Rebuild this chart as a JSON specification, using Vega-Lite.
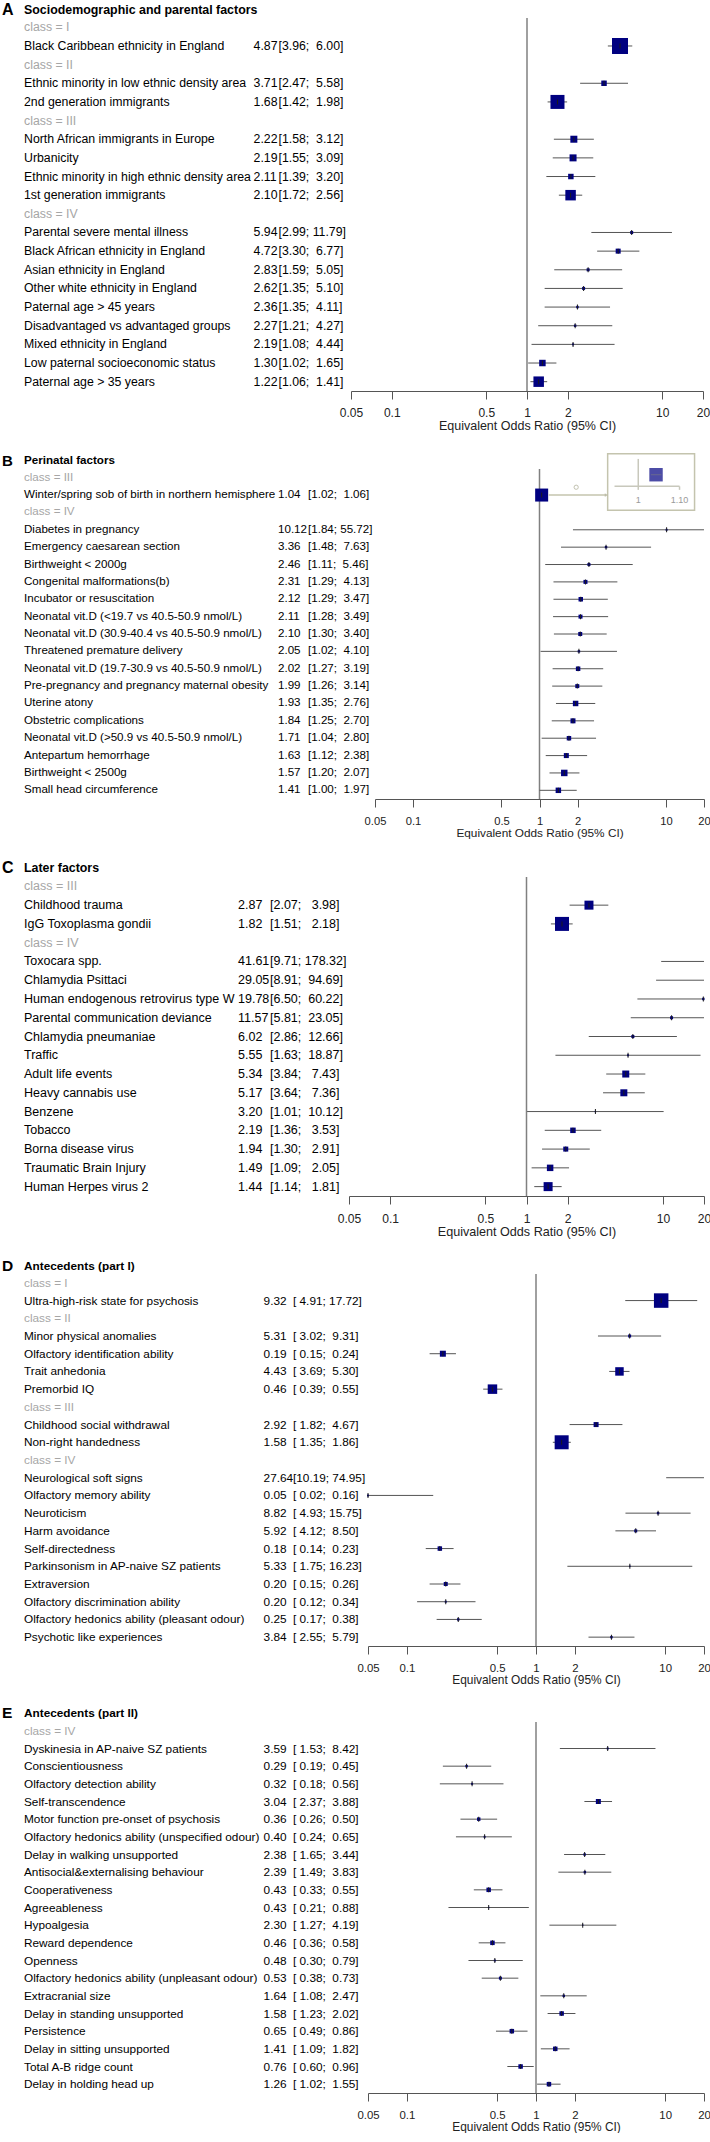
{
"$schema": "https://vega.github.io/schema/vega-lite/v6.json",
"padding": {"left": 0, "top": 1, "right": 0, "bottom": 0},
"background": "white",
"datasets": {
"A": [
{"label": "class = I"},
{"label": "Black Caribbean ethnicity in England", "est": 4.87, "lo": 3.96, "hi": 6.00, "weight": 256},
{"label": "class = II"},
{"label": "Ethnic minority in low ethnic density area", "est": 3.71, "lo": 2.47, "hi": 5.58, "weight": 30},
{"label": "2nd generation immigrants", "est": 1.68, "lo": 1.42, "hi": 1.98, "weight": 196},
{"label": "class = III"},
{"label": "North African immigrants in Europe", "est": 2.22, "lo": 1.58, "hi": 3.12, "weight": 49},
{"label": "Urbanicity", "est": 2.19, "lo": 1.55, "hi": 3.09, "weight": 49},
{"label": "Ethnic minority in high ethnic density area", "est": 2.11, "lo": 1.39, "hi": 3.20, "weight": 30},
{"label": "1st generation immigrants", "est": 2.10, "lo": 1.72, "hi": 2.56, "weight": 110},
{"label": "class = IV"},
{"label": "Parental severe mental illness", "est": 5.94, "lo": 2.99, "hi": 11.79, "weight": 9},
{"label": "Black African ethnicity in England", "est": 4.72, "lo": 3.30, "hi": 6.77, "weight": 25},
{"label": "Asian ethnicity in England", "est": 2.83, "lo": 1.59, "hi": 5.05, "weight": 9},
{"label": "Other white ethnicity in England", "est": 2.62, "lo": 1.35, "hi": 5.10, "weight": 9},
{"label": "Paternal age > 45 years", "est": 2.36, "lo": 1.35, "hi": 4.11, "weight": 6},
{"label": "Disadvantaged vs advantaged groups", "est": 2.27, "lo": 1.21, "hi": 4.27, "weight": 6},
{"label": "Mixed ethnicity in England", "est": 2.19, "lo": 1.08, "hi": 4.44, "weight": 4},
{"label": "Low paternal socioeconomic status", "est": 1.30, "lo": 1.02, "hi": 1.65, "weight": 42},
{"label": "Paternal age > 35 years", "est": 1.22, "lo": 1.06, "hi": 1.41, "weight": 110}
],
"B": [
{"label": "class = III"},
{"label": "Winter/spring sob of birth in northern hemisphere", "est": 1.04, "lo": 1.02, "hi": 1.06, "weight": 169},
{"label": "class = IV"},
{"label": "Diabetes in pregnancy", "est": 10.12, "lo": 1.84, "hi": 55.72, "weight": 4},
{"label": "Emergency caesarean section", "est": 3.36, "lo": 1.48, "hi": 7.63, "weight": 6},
{"label": "Birthweight < 2000g", "est": 2.46, "lo": 1.11, "hi": 5.46, "weight": 9},
{"label": "Congenital malformations(b)", "est": 2.31, "lo": 1.29, "hi": 4.13, "weight": 16},
{"label": "Incubator or resuscitation", "est": 2.12, "lo": 1.29, "hi": 3.47, "weight": 20},
{"label": "Neonatal vit.D (<19.7 vs 40.5-50.9 nmol/L)", "est": 2.11, "lo": 1.28, "hi": 3.49, "weight": 16},
{"label": "Neonatal vit.D (30.9-40.4 vs 40.5-50.9 nmol/L)", "est": 2.10, "lo": 1.30, "hi": 3.40, "weight": 16},
{"label": "Threatened premature delivery", "est": 2.05, "lo": 1.02, "hi": 4.10, "weight": 6},
{"label": "Neonatal vit.D (19.7-30.9 vs 40.5-50.9 nmol/L)", "est": 2.02, "lo": 1.27, "hi": 3.19, "weight": 20},
{"label": "Pre-pregnancy and pregnancy maternal obesity", "est": 1.99, "lo": 1.26, "hi": 3.14, "weight": 16},
{"label": "Uterine atony", "est": 1.93, "lo": 1.35, "hi": 2.76, "weight": 30},
{"label": "Obstetric complications", "est": 1.84, "lo": 1.25, "hi": 2.70, "weight": 25},
{"label": "Neonatal vit.D (>50.9 vs 40.5-50.9 nmol/L)", "est": 1.71, "lo": 1.04, "hi": 2.80, "weight": 20},
{"label": "Antepartum hemorrhage", "est": 1.63, "lo": 1.12, "hi": 2.38, "weight": 25},
{"label": "Birthweight < 2500g", "est": 1.57, "lo": 1.20, "hi": 2.07, "weight": 42},
{"label": "Small head circumference", "est": 1.41, "lo": 1.00, "hi": 1.97, "weight": 30}
],
"C": [
{"label": "class = III"},
{"label": "Childhood trauma", "est": 2.87, "lo": 2.07, "hi": 3.98, "weight": 81},
{"label": "IgG Toxoplasma gondii", "est": 1.82, "lo": 1.51, "hi": 2.18, "weight": 196},
{"label": "class = IV"},
{"label": "Toxocara spp.", "est": 41.61, "lo": 9.71, "hi": 178.32, "weight": 4},
{"label": "Chlamydia Psittaci", "est": 29.05, "lo": 8.91, "hi": 94.69, "weight": 4},
{"label": "Human endogenous retrovirus type W", "est": 19.78, "lo": 6.50, "hi": 60.22, "weight": 6},
{"label": "Parental communication deviance", "est": 11.57, "lo": 5.81, "hi": 23.05, "weight": 9},
{"label": "Chlamydia pneumaniae", "est": 6.02, "lo": 2.86, "hi": 12.66, "weight": 9},
{"label": "Traffic", "est": 5.55, "lo": 1.63, "hi": 18.87, "weight": 4},
{"label": "Adult life events", "est": 5.34, "lo": 3.84, "hi": 7.43, "weight": 49},
{"label": "Heavy cannabis use", "est": 5.17, "lo": 3.64, "hi": 7.36, "weight": 49},
{"label": "Benzene", "est": 3.20, "lo": 1.01, "hi": 10.12, "weight": 2},
{"label": "Tobacco", "est": 2.19, "lo": 1.36, "hi": 3.53, "weight": 30},
{"label": "Borna disease virus", "est": 1.94, "lo": 1.30, "hi": 2.91, "weight": 25},
{"label": "Traumatic Brain Injury", "est": 1.49, "lo": 1.09, "hi": 2.05, "weight": 42},
{"label": "Human Herpes virus 2", "est": 1.44, "lo": 1.14, "hi": 1.81, "weight": 81}
],
"D": [
{"label": "class = I"},
{"label": "Ultra-high-risk state for psychosis", "est": 9.32, "lo": 4.91, "hi": 17.72, "weight": 210},
{"label": "class = II"},
{"label": "Minor physical anomalies", "est": 5.31, "lo": 3.02, "hi": 9.31, "weight": 9},
{"label": "Olfactory identification ability", "est": 0.19, "lo": 0.15, "hi": 0.24, "weight": 36},
{"label": "Trait anhedonia", "est": 4.43, "lo": 3.69, "hi": 5.30, "weight": 72},
{"label": "Premorbid IQ", "est": 0.46, "lo": 0.39, "hi": 0.55, "weight": 90},
{"label": "class = III"},
{"label": "Childhood social withdrawal", "est": 2.92, "lo": 1.82, "hi": 4.67, "weight": 25},
{"label": "Non-right handedness", "est": 1.58, "lo": 1.35, "hi": 1.86, "weight": 196},
{"label": "class = IV"},
{"label": "Neurological soft signs", "est": 27.64, "lo": 10.19, "hi": 74.95, "weight": 4},
{"label": "Olfactory memory ability", "est": 0.05, "lo": 0.02, "hi": 0.16, "weight": 4},
{"label": "Neuroticism", "est": 8.82, "lo": 4.93, "hi": 15.75, "weight": 6},
{"label": "Harm avoidance", "est": 5.92, "lo": 4.12, "hi": 8.50, "weight": 9},
{"label": "Self-directedness", "est": 0.18, "lo": 0.14, "hi": 0.23, "weight": 20},
{"label": "Parkinsonism in AP-naive SZ patients", "est": 5.33, "lo": 1.75, "hi": 16.23, "weight": 2},
{"label": "Extraversion", "est": 0.20, "lo": 0.15, "hi": 0.26, "weight": 16},
{"label": "Olfactory discrimination ability", "est": 0.20, "lo": 0.12, "hi": 0.34, "weight": 4},
{"label": "Olfactory hedonics ability (pleasant odour)", "est": 0.25, "lo": 0.17, "hi": 0.38, "weight": 6},
{"label": "Psychotic like experiences", "est": 3.84, "lo": 2.55, "hi": 5.79, "weight": 6}
],
"E": [
{"label": "class = IV"},
{"label": "Dyskinesia in AP-naive SZ patients", "est": 3.59, "lo": 1.53, "hi": 8.42, "weight": 4},
{"label": "Conscientiousness", "est": 0.29, "lo": 0.19, "hi": 0.45, "weight": 6},
{"label": "Olfactory detection ability", "est": 0.32, "lo": 0.18, "hi": 0.56, "weight": 4},
{"label": "Self-transcendence", "est": 3.04, "lo": 2.37, "hi": 3.88, "weight": 25},
{"label": "Motor function pre-onset of psychosis", "est": 0.36, "lo": 0.26, "hi": 0.50, "weight": 12},
{"label": "Olfactory hedonics ability (unspecified odour)", "est": 0.40, "lo": 0.24, "hi": 0.65, "weight": 4},
{"label": "Delay in walking unsupported", "est": 2.38, "lo": 1.65, "hi": 3.44, "weight": 6},
{"label": "Antisocial&externalising behaviour", "est": 2.39, "lo": 1.49, "hi": 3.83, "weight": 6},
{"label": "Cooperativeness", "est": 0.43, "lo": 0.33, "hi": 0.55, "weight": 20},
{"label": "Agreeableness", "est": 0.43, "lo": 0.21, "hi": 0.88, "weight": 2},
{"label": "Hypoalgesia", "est": 2.30, "lo": 1.27, "hi": 4.19, "weight": 2},
{"label": "Reward dependence", "est": 0.46, "lo": 0.36, "hi": 0.58, "weight": 20},
{"label": "Openness", "est": 0.48, "lo": 0.30, "hi": 0.79, "weight": 4},
{"label": "Olfactory hedonics ability (unpleasant odour)", "est": 0.53, "lo": 0.38, "hi": 0.73, "weight": 9},
{"label": "Extracranial size", "est": 1.64, "lo": 1.08, "hi": 2.47, "weight": 6},
{"label": "Delay in standing unsupported", "est": 1.58, "lo": 1.23, "hi": 2.02, "weight": 20},
{"label": "Persistence", "est": 0.65, "lo": 0.49, "hi": 0.86, "weight": 20},
{"label": "Delay in sitting unsupported", "est": 1.41, "lo": 1.09, "hi": 1.82, "weight": 20},
{"label": "Total A-B ridge count", "est": 0.76, "lo": 0.60, "hi": 0.96, "weight": 20},
{"label": "Delay in holding head up", "est": 1.26, "lo": 1.02, "hi": 1.55, "weight": 20}
]
},
"vconcat": [
{
 "hconcat": [
  {
   "width": 351, "height": 373,
   "resolve": {"scale": {"y": "independent"}},
   "layer": [
    {"data": {"name": "A"},
     "encoding": {"y": {"field": "label", "type": "nominal", "sort": null, "axis": null, "scale": {"type": "point", "padding": 0.5}}},
     "layer": [
      {"mark": {"type": "text", "fontSize": 12.3}, "encoding": {"x": {"datum": 0.0684, "type": "quantitative", "scale": {"domain": [0, 1], "nice": false}, "axis": null}, "text": {"field": "label"}, "color": {"condition": {"test": "indexof(datum.label, 'class =') === 0", "value": "#a6a6a6"}, "value": "#000000"}}},
      {"mark": {"type": "text", "fontSize": 12.3, "text": {"expr": "isValid(datum.est) ? format(datum.est, '.2f') : ''"}}, "encoding": {"x": {"datum": 0.7225, "type": "quantitative", "scale": {"domain": [0, 1], "nice": false}, "axis": null}}},
      {"mark": {"type": "text", "fontSize": 12.3, "text": {"expr": "isValid(datum.lo) ? '[' + format(datum.lo, '.2f') + ';\u00a0' + (datum.hi < 10 ? '\u00a0' : '') + format(datum.hi, '.2f') + ']' : ''"}}, "encoding": {"x": {"datum": 0.7934, "type": "quantitative", "scale": {"domain": [0, 1], "nice": false}, "axis": null}}}
     ]},
    {"data": {"values": [{"letter": "A", "title": "Sociodemographic and parental factors"}]},
     "encoding": {"y": {"datum": -0.43, "type": "quantitative", "scale": {"domain": [0, 20], "reverse": true, "nice": false, "zero": false}, "axis": null}},
     "layer": [
      {"mark": {"type": "text", "fontSize": 16, "fontWeight": "bold"}, "encoding": {"x": {"datum": 0.0057, "type": "quantitative", "scale": {"domain": [0, 1], "nice": false}, "axis": null}, "text": {"field": "letter"}}},
      {"mark": {"type": "text", "fontSize": 12.4, "fontWeight": "bold"}, "encoding": {"x": {"datum": 0.0684, "type": "quantitative", "scale": {"domain": [0, 1], "nice": false}, "axis": null}, "text": {"field": "title"}}}
     ]}
   ]
  },
  {
   "width": 352, "height": 373,
   "data": {"name": "A"},
   "layer": [
    {"data": {"values": [{}]}, "mark": {"type": "rule", "color": "#808080", "strokeWidth": 1.5}, "encoding": {"x": {"datum": 1, "type": "quantitative", "scale": {"type": "log", "domain": [0.05, 20], "clamp": true, "nice": false}, "axis": {"values": [0.05, 0.1, 0.5, 1, 2, 10, 20], "format": "~g", "title": "Equivalent Odds Ratio (95% CI)", "labelFontSize": 12, "titleFontSize": 12.5}}}},
    {"mark": {"type": "rule", "color": "#555555", "strokeWidth": 1}, "encoding": {"x": {"field": "lo", "type": "quantitative", "scale": {"type": "log", "domain": [0.05, 20], "clamp": true, "nice": false}, "axis": {"values": [0.05, 0.1, 0.5, 1, 2, 10, 20], "format": "~g", "title": "Equivalent Odds Ratio (95% CI)", "labelFontSize": 12, "titleFontSize": 12.5}}, "x2": {"field": "hi"}, "y": {"field": "label", "type": "nominal", "sort": null, "axis": null, "scale": {"type": "point", "padding": 0.5}}}},
    {"mark": {"type": "point", "shape": "square", "filled": true, "color": "#000080", "strokeWidth": 0}, "encoding": {"x": {"field": "est", "type": "quantitative", "scale": {"type": "log", "domain": [0.05, 20], "clamp": true, "nice": false}, "axis": {"values": [0.05, 0.1, 0.5, 1, 2, 10, 20], "format": "~g", "title": "Equivalent Odds Ratio (95% CI)", "labelFontSize": 12, "titleFontSize": 12.5}}, "y": {"field": "label", "type": "nominal", "sort": null, "axis": null, "scale": {"type": "point", "padding": 0.5}}, "size": {"field": "weight", "type": "quantitative", "scale": {"domain": [0, 300], "range": [0, 300]}, "legend": null}, "opacity": {"condition": {"test": "datum.est > 20", "value": 0}, "value": 1}}},
    {"mark": {"type": "tick", "color": "#1a1a1a", "size": 5, "thickness": 1}, "encoding": {"x": {"field": "est", "type": "quantitative", "scale": {"type": "log", "domain": [0.05, 20], "clamp": true, "nice": false}, "axis": {"values": [0.05, 0.1, 0.5, 1, 2, 10, 20], "format": "~g", "title": "Equivalent Odds Ratio (95% CI)", "labelFontSize": 12, "titleFontSize": 12.5}}, "y": {"field": "label", "type": "nominal", "sort": null, "axis": null, "scale": {"type": "point", "padding": 0.5}}, "opacity": {"condition": {"test": "datum.est > 20", "value": 0}, "value": 1}}}
   ]
  }
 ],
 "spacing": 0,
 "bounds": "flush",
 "resolve": {"scale": {"x": "independent", "y": "independent", "size": "independent", "opacity": "independent"}}
},
{
 "hconcat": [
  {
   "width": 375, "height": 330,
   "resolve": {"scale": {"y": "independent"}},
   "layer": [
    {"data": {"name": "B"},
     "encoding": {"y": {"field": "label", "type": "nominal", "sort": null, "axis": null, "scale": {"type": "point", "padding": 0.5}}},
     "layer": [
      {"mark": {"type": "text", "fontSize": 11.6}, "encoding": {"x": {"datum": 0.064, "type": "quantitative", "scale": {"domain": [0, 1], "nice": false}, "axis": null}, "text": {"field": "label"}, "color": {"condition": {"test": "indexof(datum.label, 'class =') === 0", "value": "#a6a6a6"}, "value": "#000000"}}},
      {"mark": {"type": "text", "fontSize": 11.6, "text": {"expr": "isValid(datum.est) ? format(datum.est, '.2f') : ''"}}, "encoding": {"x": {"datum": 0.7413, "type": "quantitative", "scale": {"domain": [0, 1], "nice": false}, "axis": null}}},
      {"mark": {"type": "text", "fontSize": 11.6, "text": {"expr": "isValid(datum.lo) ? '[' + format(datum.lo, '.2f') + ';\u00a0' + (datum.hi < 10 ? '\u00a0' : '') + format(datum.hi, '.2f') + ']' : ''"}}, "encoding": {"x": {"datum": 0.8213, "type": "quantitative", "scale": {"domain": [0, 1], "nice": false}, "axis": null}}}
     ]},
    {"data": {"values": [{"letter": "B", "title": "Perinatal factors"}]},
     "encoding": {"y": {"datum": -0.44, "type": "quantitative", "scale": {"domain": [0, 19], "reverse": true, "nice": false, "zero": false}, "axis": null}},
     "layer": [
      {"mark": {"type": "text", "fontSize": 15, "fontWeight": "bold"}, "encoding": {"x": {"datum": 0.0056, "type": "quantitative", "scale": {"domain": [0, 1], "nice": false}, "axis": null}, "text": {"field": "letter"}}},
      {"mark": {"type": "text", "fontSize": 11.6, "fontWeight": "bold"}, "encoding": {"x": {"datum": 0.064, "type": "quantitative", "scale": {"domain": [0, 1], "nice": false}, "axis": null}, "text": {"field": "title"}}}
     ]}
   ]
  },
  {
   "width": 329, "height": 330,
   "resolve": {"scale": {"y": "independent"}},
   "layer": [
    {"data": {"name": "B"},
     "layer": [
      {"data": {"values": [{}]}, "mark": {"type": "rule", "color": "#808080", "strokeWidth": 1.5}, "encoding": {"x": {"datum": 1, "type": "quantitative", "scale": {"type": "log", "domain": [0.05, 20], "clamp": true, "nice": false}, "axis": {"values": [0.05, 0.1, 0.5, 1, 2, 10, 20], "format": "~g", "title": "Equivalent Odds Ratio (95% CI)", "labelFontSize": 11.2, "titleFontSize": 11.8}}}},
      {"mark": {"type": "rule", "color": "#555555", "strokeWidth": 1}, "encoding": {"x": {"field": "lo", "type": "quantitative", "scale": {"type": "log", "domain": [0.05, 20], "clamp": true, "nice": false}, "axis": {"values": [0.05, 0.1, 0.5, 1, 2, 10, 20], "format": "~g", "title": "Equivalent Odds Ratio (95% CI)", "labelFontSize": 11.2, "titleFontSize": 11.8}}, "x2": {"field": "hi"}, "y": {"field": "label", "type": "nominal", "sort": null, "axis": null, "scale": {"type": "point", "padding": 0.5}}}},
      {"mark": {"type": "point", "shape": "square", "filled": true, "color": "#000080", "strokeWidth": 0}, "encoding": {"x": {"field": "est", "type": "quantitative", "scale": {"type": "log", "domain": [0.05, 20], "clamp": true, "nice": false}, "axis": {"values": [0.05, 0.1, 0.5, 1, 2, 10, 20], "format": "~g", "title": "Equivalent Odds Ratio (95% CI)", "labelFontSize": 11.2, "titleFontSize": 11.8}}, "y": {"field": "label", "type": "nominal", "sort": null, "axis": null, "scale": {"type": "point", "padding": 0.5}}, "size": {"field": "weight", "type": "quantitative", "scale": {"domain": [0, 300], "range": [0, 300]}, "legend": null}, "opacity": {"condition": {"test": "datum.est > 20", "value": 0}, "value": 1}}},
      {"mark": {"type": "tick", "color": "#1a1a1a", "size": 5, "thickness": 1}, "encoding": {"x": {"field": "est", "type": "quantitative", "scale": {"type": "log", "domain": [0.05, 20], "clamp": true, "nice": false}, "axis": {"values": [0.05, 0.1, 0.5, 1, 2, 10, 20], "format": "~g", "title": "Equivalent Odds Ratio (95% CI)", "labelFontSize": 11.2, "titleFontSize": 11.8}}, "y": {"field": "label", "type": "nominal", "sort": null, "axis": null, "scale": {"type": "point", "padding": 0.5}}, "opacity": {"condition": {"test": "datum.est > 20", "value": 0}, "value": 1}}}
     ]},
    {"data": {"values": [{"a": "1", "b": "1.10"}]},
     "layer": [
      {"mark": {"type": "rect", "fillOpacity": 0, "stroke": "#c4c4ae", "strokeWidth": 1.5}, "encoding": {"x": {"datum": 3.46, "type": "quantitative", "scale": {"type": "log", "domain": [0.05, 20], "clamp": true, "nice": false}, "axis": {"values": [0.05, 0.1, 0.5, 1, 2, 10, 20], "format": "~g", "title": "Equivalent Odds Ratio (95% CI)", "labelFontSize": 11.2, "titleFontSize": 11.8}}, "x2": {"datum": 16.84}, "y": {"datum": -0.88, "type": "quantitative", "scale": {"domain": [0, 19], "reverse": true, "nice": false, "zero": false}, "axis": null}, "y2": {"datum": 2.38}}},
      {"mark": {"type": "rule", "color": "#c8c8bc", "strokeWidth": 1.5}, "encoding": {"x": {"datum": 6.04, "type": "quantitative"}, "y": {"datum": -0.58, "type": "quantitative"}, "y2": {"datum": 1.0}}},
      {"mark": {"type": "rule", "color": "#c8c8bc", "strokeWidth": 1.5}, "encoding": {"x": {"datum": 3.92, "type": "quantitative"}, "x2": {"datum": 12.81}, "y": {"datum": 1.0, "type": "quantitative"}}},
      {"mark": {"type": "rule", "color": "#c8c8bc", "strokeWidth": 1.5}, "encoding": {"x": {"datum": 12.81, "type": "quantitative"}, "y": {"datum": 1.0, "type": "quantitative"}, "y2": {"datum": 1.2}}},
      {"mark": {"type": "rule", "color": "#c8c8bc", "strokeWidth": 1.5}, "encoding": {"x": {"datum": 6.04, "type": "quantitative"}, "y": {"datum": 1.0, "type": "quantitative"}, "y2": {"datum": 1.2}}},
      {"mark": {"type": "text", "align": "center", "fontSize": 9, "color": "#9a9a9a"}, "encoding": {"x": {"datum": 6.04, "type": "quantitative"}, "y": {"datum": 1.77, "type": "quantitative"}, "text": {"field": "a"}}},
      {"mark": {"type": "text", "align": "center", "fontSize": 9, "color": "#9a9a9a"}, "encoding": {"x": {"datum": 12.81, "type": "quantitative"}, "y": {"datum": 1.77, "type": "quantitative"}, "text": {"field": "b"}}},
      {"mark": {"type": "point", "shape": "square", "filled": true, "color": "#000080", "strokeWidth": 0, "size": 180}, "encoding": {"x": {"datum": 8.35, "type": "quantitative"}, "y": {"datum": 0.33, "type": "quantitative"}}},
      {"mark": {"type": "rule", "color": "#6a6a90", "strokeWidth": 1}, "encoding": {"x": {"datum": 7.6, "type": "quantitative"}, "x2": {"datum": 9.2}, "y": {"datum": 0.33, "type": "quantitative"}}},
      {"mark": {"type": "rule", "color": "#c4c4ae", "strokeWidth": 1.5}, "encoding": {"x": {"datum": 1.18, "type": "quantitative"}, "x2": {"datum": 3.38}, "y": {"datum": 1.5, "type": "quantitative"}}},
      {"mark": {"type": "point", "shape": "triangle-right", "filled": true, "color": "#b4b49c", "size": 14}, "encoding": {"x": {"datum": 3.38, "type": "quantitative"}, "y": {"datum": 1.5, "type": "quantitative"}}},
      {"mark": {"type": "point", "shape": "circle", "filled": false, "color": "#a9a98f", "strokeWidth": 1, "size": 18}, "encoding": {"x": {"datum": 1.95, "type": "quantitative"}, "y": {"datum": 1.05, "type": "quantitative"}}}
     ]}
   ]
  }
 ],
 "spacing": 0,
 "bounds": "flush",
 "resolve": {"scale": {"x": "independent", "y": "independent", "size": "independent", "opacity": "independent"}}
},
{
 "hconcat": [
  {
   "width": 349, "height": 319,
   "resolve": {"scale": {"y": "independent"}},
   "layer": [
    {"data": {"name": "C"},
     "encoding": {"y": {"field": "label", "type": "nominal", "sort": null, "axis": null, "scale": {"type": "point", "padding": 0.5}}},
     "layer": [
      {"mark": {"type": "text", "fontSize": 12.5}, "encoding": {"x": {"datum": 0.0688, "type": "quantitative", "scale": {"domain": [0, 1], "nice": false}, "axis": null}, "text": {"field": "label"}, "color": {"condition": {"test": "indexof(datum.label, 'class =') === 0", "value": "#a6a6a6"}, "value": "#000000"}}},
      {"mark": {"type": "text", "fontSize": 12.5, "text": {"expr": "isValid(datum.est) ? format(datum.est, '.2f') : ''"}}, "encoding": {"x": {"datum": 0.682, "type": "quantitative", "scale": {"domain": [0, 1], "nice": false}, "axis": null}}},
      {"mark": {"type": "text", "fontSize": 12.5, "text": {"expr": "isValid(datum.lo) ? '[' + format(datum.lo, '.2f') + ';\u00a0' + (datum.hi < 10 ? '\u00a0\u00a0' : (datum.hi < 100 ? '\u00a0' : '')) + format(datum.hi, '.2f') + ']' : ''"}}, "encoding": {"x": {"datum": 0.7736, "type": "quantitative", "scale": {"domain": [0, 1], "nice": false}, "axis": null}}}
     ]},
    {"data": {"values": [{"letter": "C", "title": "Later factors"}]},
     "encoding": {"y": {"datum": -0.46, "type": "quantitative", "scale": {"domain": [0, 17], "reverse": true, "nice": false, "zero": false}, "axis": null}},
     "layer": [
      {"mark": {"type": "text", "fontSize": 16, "fontWeight": "bold"}, "encoding": {"x": {"datum": 0.006, "type": "quantitative", "scale": {"domain": [0, 1], "nice": false}, "axis": null}, "text": {"field": "letter"}}},
      {"mark": {"type": "text", "fontSize": 12.4, "fontWeight": "bold"}, "encoding": {"x": {"datum": 0.0688, "type": "quantitative", "scale": {"domain": [0, 1], "nice": false}, "axis": null}, "text": {"field": "title"}}}
     ]}
   ]
  },
  {
   "width": 355, "height": 319,
   "data": {"name": "C"},
   "layer": [
    {"data": {"values": [{}]}, "mark": {"type": "rule", "color": "#808080", "strokeWidth": 1.5}, "encoding": {"x": {"datum": 1, "type": "quantitative", "scale": {"type": "log", "domain": [0.05, 20], "clamp": true, "nice": false}, "axis": {"values": [0.05, 0.1, 0.5, 1, 2, 10, 20], "format": "~g", "title": "Equivalent Odds Ratio (95% CI)", "labelFontSize": 12.1, "titleFontSize": 12.6}}}},
    {"mark": {"type": "rule", "color": "#555555", "strokeWidth": 1}, "encoding": {"x": {"field": "lo", "type": "quantitative", "scale": {"type": "log", "domain": [0.05, 20], "clamp": true, "nice": false}, "axis": {"values": [0.05, 0.1, 0.5, 1, 2, 10, 20], "format": "~g", "title": "Equivalent Odds Ratio (95% CI)", "labelFontSize": 12.1, "titleFontSize": 12.6}}, "x2": {"field": "hi"}, "y": {"field": "label", "type": "nominal", "sort": null, "axis": null, "scale": {"type": "point", "padding": 0.5}}}},
    {"mark": {"type": "point", "shape": "square", "filled": true, "color": "#000080", "strokeWidth": 0}, "encoding": {"x": {"field": "est", "type": "quantitative", "scale": {"type": "log", "domain": [0.05, 20], "clamp": true, "nice": false}, "axis": {"values": [0.05, 0.1, 0.5, 1, 2, 10, 20], "format": "~g", "title": "Equivalent Odds Ratio (95% CI)", "labelFontSize": 12.1, "titleFontSize": 12.6}}, "y": {"field": "label", "type": "nominal", "sort": null, "axis": null, "scale": {"type": "point", "padding": 0.5}}, "size": {"field": "weight", "type": "quantitative", "scale": {"domain": [0, 300], "range": [0, 300]}, "legend": null}, "opacity": {"condition": {"test": "datum.est > 20", "value": 0}, "value": 1}}},
    {"mark": {"type": "tick", "color": "#1a1a1a", "size": 5, "thickness": 1}, "encoding": {"x": {"field": "est", "type": "quantitative", "scale": {"type": "log", "domain": [0.05, 20], "clamp": true, "nice": false}, "axis": {"values": [0.05, 0.1, 0.5, 1, 2, 10, 20], "format": "~g", "title": "Equivalent Odds Ratio (95% CI)", "labelFontSize": 12.1, "titleFontSize": 12.6}}, "y": {"field": "label", "type": "nominal", "sort": null, "axis": null, "scale": {"type": "point", "padding": 0.5}}, "opacity": {"condition": {"test": "datum.est > 20", "value": 0}, "value": 1}}}
   ]
  }
 ],
 "spacing": 0,
 "bounds": "flush",
 "resolve": {"scale": {"x": "independent", "y": "independent", "size": "independent", "opacity": "independent"}}
},
{
 "hconcat": [
  {
   "width": 368, "height": 372,
   "resolve": {"scale": {"y": "independent"}},
   "layer": [
    {"data": {"name": "D"},
     "encoding": {"y": {"field": "label", "type": "nominal", "sort": null, "axis": null, "scale": {"type": "point", "padding": 0.5}}},
     "layer": [
      {"mark": {"type": "text", "fontSize": 11.8}, "encoding": {"x": {"datum": 0.0652, "type": "quantitative", "scale": {"domain": [0, 1], "nice": false}, "axis": null}, "text": {"field": "label"}, "color": {"condition": {"test": "indexof(datum.label, 'class =') === 0", "value": "#a6a6a6"}, "value": "#000000"}}},
      {"mark": {"type": "text", "fontSize": 11.8, "text": {"expr": "isValid(datum.est) ? format(datum.est, '.2f') : ''"}}, "encoding": {"x": {"datum": 0.7163, "type": "quantitative", "scale": {"domain": [0, 1], "nice": false}, "axis": null}}},
      {"mark": {"type": "text", "fontSize": 11.8, "text": {"expr": "isValid(datum.lo) ? '[' + (datum.lo < 10 ? '\u00a0' : '') + format(datum.lo, '.2f') + ';\u00a0' + (datum.hi < 10 ? '\u00a0' : '') + format(datum.hi, '.2f') + ']' : ''"}}, "encoding": {"x": {"datum": 0.7962, "type": "quantitative", "scale": {"domain": [0, 1], "nice": false}, "axis": null}}}
     ]},
    {"data": {"values": [{"letter": "D", "title": "Antecedents (part I)"}]},
     "encoding": {"y": {"datum": -0.43, "type": "quantitative", "scale": {"domain": [0, 21], "reverse": true, "nice": false, "zero": false}, "axis": null}},
     "layer": [
      {"mark": {"type": "text", "fontSize": 15.5, "fontWeight": "bold"}, "encoding": {"x": {"datum": 0.0057, "type": "quantitative", "scale": {"domain": [0, 1], "nice": false}, "axis": null}, "text": {"field": "letter"}}},
      {"mark": {"type": "text", "fontSize": 11.8, "fontWeight": "bold"}, "encoding": {"x": {"datum": 0.0652, "type": "quantitative", "scale": {"domain": [0, 1], "nice": false}, "axis": null}, "text": {"field": "title"}}}
     ]}
   ]
  },
  {
   "width": 336, "height": 372,
   "data": {"name": "D"},
   "layer": [
    {"data": {"values": [{}]}, "mark": {"type": "rule", "color": "#808080", "strokeWidth": 1.5}, "encoding": {"x": {"datum": 1, "type": "quantitative", "scale": {"type": "log", "domain": [0.05, 20], "clamp": true, "nice": false}, "axis": {"values": [0.05, 0.1, 0.5, 1, 2, 10, 20], "format": "~g", "title": "Equivalent Odds Ratio (95% CI)", "labelFontSize": 11.4, "titleFontSize": 11.9}}}},
    {"mark": {"type": "rule", "color": "#555555", "strokeWidth": 1}, "encoding": {"x": {"field": "lo", "type": "quantitative", "scale": {"type": "log", "domain": [0.05, 20], "clamp": true, "nice": false}, "axis": {"values": [0.05, 0.1, 0.5, 1, 2, 10, 20], "format": "~g", "title": "Equivalent Odds Ratio (95% CI)", "labelFontSize": 11.4, "titleFontSize": 11.9}}, "x2": {"field": "hi"}, "y": {"field": "label", "type": "nominal", "sort": null, "axis": null, "scale": {"type": "point", "padding": 0.5}}}},
    {"mark": {"type": "point", "shape": "square", "filled": true, "color": "#000080", "strokeWidth": 0}, "encoding": {"x": {"field": "est", "type": "quantitative", "scale": {"type": "log", "domain": [0.05, 20], "clamp": true, "nice": false}, "axis": {"values": [0.05, 0.1, 0.5, 1, 2, 10, 20], "format": "~g", "title": "Equivalent Odds Ratio (95% CI)", "labelFontSize": 11.4, "titleFontSize": 11.9}}, "y": {"field": "label", "type": "nominal", "sort": null, "axis": null, "scale": {"type": "point", "padding": 0.5}}, "size": {"field": "weight", "type": "quantitative", "scale": {"domain": [0, 300], "range": [0, 300]}, "legend": null}, "opacity": {"condition": {"test": "datum.est > 20", "value": 0}, "value": 1}}},
    {"mark": {"type": "tick", "color": "#1a1a1a", "size": 5, "thickness": 1}, "encoding": {"x": {"field": "est", "type": "quantitative", "scale": {"type": "log", "domain": [0.05, 20], "clamp": true, "nice": false}, "axis": {"values": [0.05, 0.1, 0.5, 1, 2, 10, 20], "format": "~g", "title": "Equivalent Odds Ratio (95% CI)", "labelFontSize": 11.4, "titleFontSize": 11.9}}, "y": {"field": "label", "type": "nominal", "sort": null, "axis": null, "scale": {"type": "point", "padding": 0.5}}, "opacity": {"condition": {"test": "datum.est > 20", "value": 0}, "value": 1}}}
   ]
  }
 ],
 "spacing": 0,
 "bounds": "flush",
 "resolve": {"scale": {"x": "independent", "y": "independent", "size": "independent", "opacity": "independent"}}
},
{
 "hconcat": [
  {
   "width": 368, "height": 371,
   "resolve": {"scale": {"y": "independent"}},
   "layer": [
    {"data": {"name": "E"},
     "encoding": {"y": {"field": "label", "type": "nominal", "sort": null, "axis": null, "scale": {"type": "point", "padding": 0.5}}},
     "layer": [
      {"mark": {"type": "text", "fontSize": 11.8}, "encoding": {"x": {"datum": 0.0652, "type": "quantitative", "scale": {"domain": [0, 1], "nice": false}, "axis": null}, "text": {"field": "label"}, "color": {"condition": {"test": "indexof(datum.label, 'class =') === 0", "value": "#a6a6a6"}, "value": "#000000"}}},
      {"mark": {"type": "text", "fontSize": 11.8, "text": {"expr": "isValid(datum.est) ? format(datum.est, '.2f') : ''"}}, "encoding": {"x": {"datum": 0.7163, "type": "quantitative", "scale": {"domain": [0, 1], "nice": false}, "axis": null}}},
      {"mark": {"type": "text", "fontSize": 11.8, "text": {"expr": "isValid(datum.lo) ? '[' + (datum.lo < 10 ? '\u00a0' : '') + format(datum.lo, '.2f') + ';\u00a0' + (datum.hi < 10 ? '\u00a0' : '') + format(datum.hi, '.2f') + ']' : ''"}}, "encoding": {"x": {"datum": 0.7962, "type": "quantitative", "scale": {"domain": [0, 1], "nice": false}, "axis": null}}}
     ]},
    {"data": {"values": [{"letter": "E", "title": "Antecedents (part II)"}]},
     "encoding": {"y": {"datum": -0.49, "type": "quantitative", "scale": {"domain": [0, 21], "reverse": true, "nice": false, "zero": false}, "axis": null}},
     "layer": [
      {"mark": {"type": "text", "fontSize": 15.5, "fontWeight": "bold"}, "encoding": {"x": {"datum": 0.0057, "type": "quantitative", "scale": {"domain": [0, 1], "nice": false}, "axis": null}, "text": {"field": "letter"}}},
      {"mark": {"type": "text", "fontSize": 11.8, "fontWeight": "bold"}, "encoding": {"x": {"datum": 0.0652, "type": "quantitative", "scale": {"domain": [0, 1], "nice": false}, "axis": null}, "text": {"field": "title"}}}
     ]}
   ]
  },
  {
   "width": 336, "height": 371,
   "data": {"name": "E"},
   "layer": [
    {"data": {"values": [{}]}, "mark": {"type": "rule", "color": "#808080", "strokeWidth": 1.5}, "encoding": {"x": {"datum": 1, "type": "quantitative", "scale": {"type": "log", "domain": [0.05, 20], "clamp": true, "nice": false}, "axis": {"values": [0.05, 0.1, 0.5, 1, 2, 10, 20], "format": "~g", "title": "Equivalent Odds Ratio (95% CI)", "labelFontSize": 11.4, "titleFontSize": 11.9}}}},
    {"mark": {"type": "rule", "color": "#555555", "strokeWidth": 1}, "encoding": {"x": {"field": "lo", "type": "quantitative", "scale": {"type": "log", "domain": [0.05, 20], "clamp": true, "nice": false}, "axis": {"values": [0.05, 0.1, 0.5, 1, 2, 10, 20], "format": "~g", "title": "Equivalent Odds Ratio (95% CI)", "labelFontSize": 11.4, "titleFontSize": 11.9}}, "x2": {"field": "hi"}, "y": {"field": "label", "type": "nominal", "sort": null, "axis": null, "scale": {"type": "point", "padding": 0.5}}}},
    {"mark": {"type": "point", "shape": "square", "filled": true, "color": "#000080", "strokeWidth": 0}, "encoding": {"x": {"field": "est", "type": "quantitative", "scale": {"type": "log", "domain": [0.05, 20], "clamp": true, "nice": false}, "axis": {"values": [0.05, 0.1, 0.5, 1, 2, 10, 20], "format": "~g", "title": "Equivalent Odds Ratio (95% CI)", "labelFontSize": 11.4, "titleFontSize": 11.9}}, "y": {"field": "label", "type": "nominal", "sort": null, "axis": null, "scale": {"type": "point", "padding": 0.5}}, "size": {"field": "weight", "type": "quantitative", "scale": {"domain": [0, 300], "range": [0, 300]}, "legend": null}, "opacity": {"condition": {"test": "datum.est > 20", "value": 0}, "value": 1}}},
    {"mark": {"type": "tick", "color": "#1a1a1a", "size": 5, "thickness": 1}, "encoding": {"x": {"field": "est", "type": "quantitative", "scale": {"type": "log", "domain": [0.05, 20], "clamp": true, "nice": false}, "axis": {"values": [0.05, 0.1, 0.5, 1, 2, 10, 20], "format": "~g", "title": "Equivalent Odds Ratio (95% CI)", "labelFontSize": 11.4, "titleFontSize": 11.9}}, "y": {"field": "label", "type": "nominal", "sort": null, "axis": null, "scale": {"type": "point", "padding": 0.5}}, "opacity": {"condition": {"test": "datum.est > 20", "value": 0}, "value": 1}}}
   ]
  }
 ],
 "spacing": 0,
 "bounds": "flush",
 "resolve": {"scale": {"x": "independent", "y": "independent", "size": "independent", "opacity": "independent"}}
}
],
"spacing": 20,
"resolve": {"scale": {"x": "independent", "y": "independent", "size": "independent", "opacity": "independent"}, "axis": {"x": "independent", "y": "independent"}},
"config": {
 "view": {"stroke": null},
 "font": "Liberation Sans",
 "mark": {"invalid": "break-paths-show-domains"},
 "text": {"font": "Liberation Sans", "fontSize": 12.3, "baseline": "middle", "align": "left", "color": "#000000"},
 "axis": {"grid": false, "domainColor": "#555555", "tickColor": "#555555", "labelColor": "#222222", "titleColor": "#222222", "labelFont": "Liberation Sans", "titleFont": "Liberation Sans", "titleFontWeight": "normal", "tickSize": 8, "labelPadding": 8.5, "titlePadding": 1, "labelFlush": false, "labelOverlap": false, "labelBound": false, "domainWidth": 1, "tickWidth": 1}
}
}
